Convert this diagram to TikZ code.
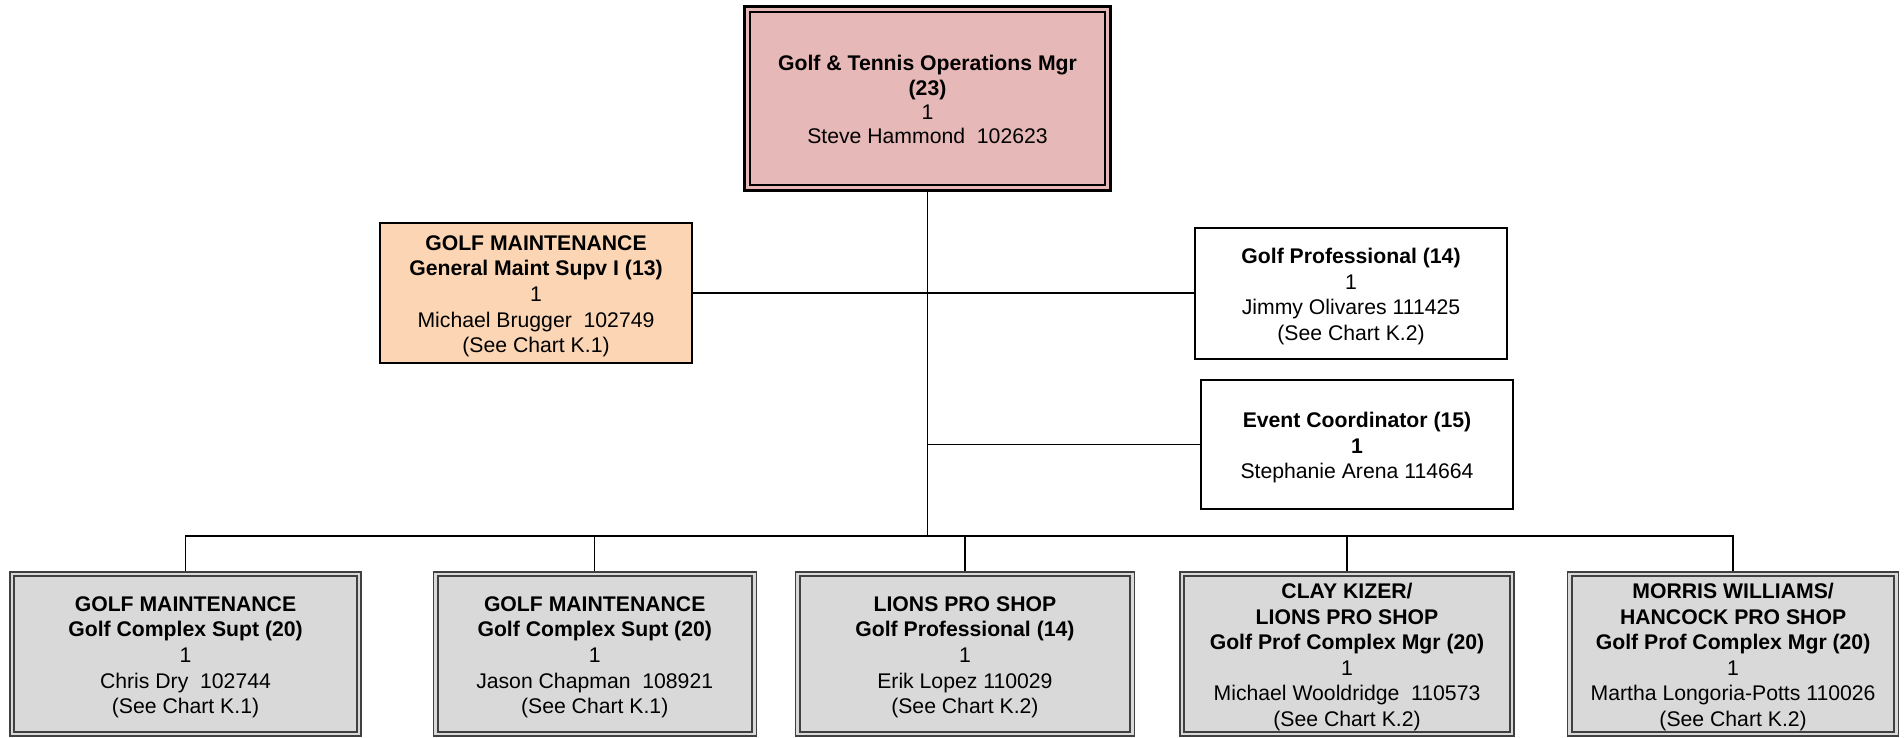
\documentclass[tikz,border=0pt]{standalone}
\usepackage{fontspec}
\setmainfont{Liberation Sans}
\usetikzlibrary{positioning}
\definecolor{mgrpink}{HTML}{E6B8B7}
\definecolor{maintpeach}{HTML}{FCD5B4}
\definecolor{unitgray}{HTML}{D9D9D9}
\newcommand{\hdstrut}{\rule{0pt}{12.4pt}}
\tikzstyle{post} = [rectangle,
                    text centered,
                    inner sep=0pt,
                    draw=black,
                    line width=0.65pt,
                    font=\fontsize{10.6}{12.8}\selectfont]
\tikzstyle{mgr} = [post,
                   minimum width=182.9pt,
                   minimum height=91.9pt,
                   line width=1.6pt,
                   fill=mgrpink,
                   path picture={\draw[line width=0.9pt] ([shift={(2.7pt,-2.7pt)}]path picture bounding box.north west) rectangle ([shift={(-2.7pt,2.7pt)}]path picture bounding box.south east);}]
\tikzstyle{maint} = [post,
                     minimum width=156pt,
                     minimum height=70pt,
                     fill=maintpeach]
\tikzstyle{staff} = [post,
                     minimum width=156pt]
\tikzstyle{unit} = [post,
                    minimum height=82pt,
                    draw=black!75,
                    line width=0.6pt,
                    fill=unitgray,
                    path picture={\draw[line width=1pt] ([shift={(2.2pt,-2.2pt)}]path picture bounding box.north west) rectangle ([shift={(-2.2pt,2.2pt)}]path picture bounding box.south east);}]
\tikzstyle{link} = [draw=black,
                    line width=0.7pt]

\begin{document}
\begin{tikzpicture}[x=0.5pt, y=-0.5pt]
\useasboundingbox (0,0) rectangle (1904,738);
\node (top) [mgr, font=\fontsize{10.6}{12.2}\selectfont] at (927.5,98.5) {\begin{tabular}{c} \hdstrut\textbf{Golf \& Tennis Operations Mgr} \\ \textbf{(23)} \\ 1 \\ Steve Hammond~~102623 \end{tabular}};
\node (gm) [maint] at (536,293) {\begin{tabular}{c} \hdstrut\textbf{GOLF MAINTENANCE} \\ \textbf{General Maint Supv I (13)} \\ 1 \\ Michael Brugger~~102749 \\ (See Chart K.1) \end{tabular}};
\node (gp) [staff, minimum height=65.5pt] at (1351,293.5) {\begin{tabular}{c} \hdstrut\textbf{Golf Professional (14)} \\ 1 \\ Jimmy Olivares 111425 \\ (See Chart K.2) \end{tabular}};
\node (ec) [staff, minimum height=64.5pt] at (1357,444.5) {\begin{tabular}{c} \hdstrut\textbf{Event Coordinator (15)} \\ \textbf{1} \\ Stephanie Arena 114664 \end{tabular}};
\node (b1) [unit, minimum width=175.5pt] at (185.5,654) {\begin{tabular}{c} \hdstrut\textbf{GOLF MAINTENANCE} \\ \textbf{Golf Complex Supt (20)} \\ 1 \\ Chris Dry~~102744 \\ (See Chart K.1) \end{tabular}};
\node (b2) [unit, minimum width=161.5pt, right=35.5pt of b1] {\begin{tabular}{c} \hdstrut\textbf{GOLF MAINTENANCE} \\ \textbf{Golf Complex Supt (20)} \\ 1 \\ Jason Chapman~~108921 \\ (See Chart K.1) \end{tabular}};
\node (b3) [unit, minimum width=169.5pt, right=19pt of b2] {\begin{tabular}{c} \hdstrut\textbf{LIONS PRO SHOP} \\ \textbf{Golf Professional (14)} \\ 1 \\ Erik Lopez 110029 \\ (See Chart K.2) \end{tabular}};
\node (b4) [unit, minimum width=167pt, right=22.2pt of b3] {\begin{tabular}{c} \hdstrut\textbf{CLAY KIZER/} \\ \textbf{LIONS PRO SHOP} \\ \textbf{Golf Prof Complex Mgr (20)} \\ 1 \\ Michael Wooldridge~~110573 \\ (See Chart K.2) \end{tabular}};
\node (b5) [unit, minimum width=165.5pt, right=26.2pt of b4] {\begin{tabular}{c} \hdstrut\textbf{MORRIS WILLIAMS/} \\ \textbf{HANCOCK PRO SHOP} \\ \textbf{Golf Prof Complex Mgr (20)} \\ 1 \\ Martha Longoria-Potts 110026 \\ (See Chart K.2) \end{tabular}};
\coordinate (bus) at (927.5,536);
\draw [link] (top.south) -- (bus);
\draw [link] (gm.east) -- (gp.west |- gm.east);
\draw [link] (top.south |- ec.west) -- (ec.west);
\draw [link] (bus) -| (b1.north);
\draw [link] (bus) -| (b2.north);
\draw [link] (bus) -| (b3.north);
\draw [link] (bus) -| (b4.north);
\draw [link] (bus) -| (b5.north);
\end{tikzpicture}
\end{document}
